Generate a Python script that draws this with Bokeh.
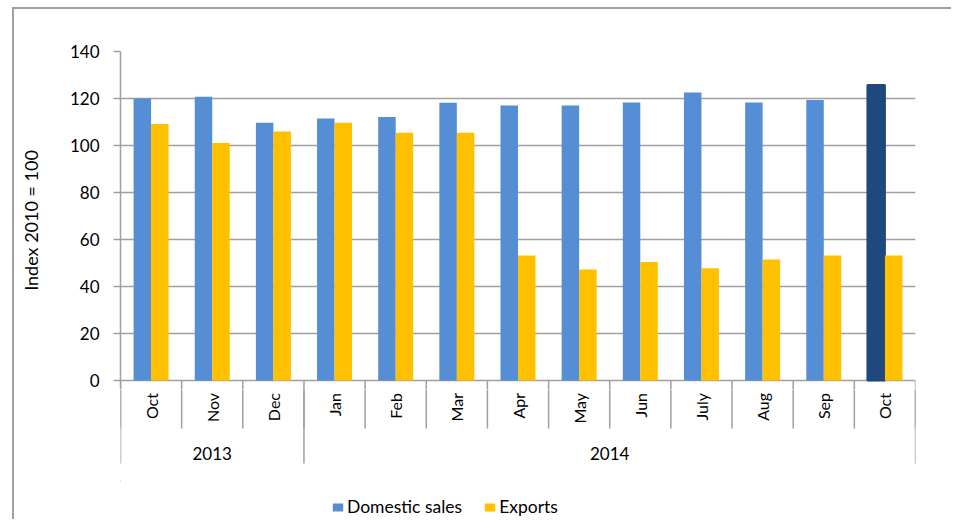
import math
from bokeh.plotting import figure
from bokeh.layouts import column
from bokeh.models import (Range1d, FixedTicker, ColumnDataSource,
                          Legend, LegendItem, InlineStyleSheet)
from bokeh.core.properties import value
from bokeh.transform import dodge
from bokeh.embed import file_html
from bokeh.resources import INLINE

# ---- data ----
years = ["2013", "2013", "2013", "2014", "2014", "2014", "2014", "2014", "2014", "2014", "2014", "2014", "2014"]
months = ["Oct", "Nov", "Dec", "Jan", "Feb", "Mar", "Apr", "May", "Jun", "July", "Aug", "Sep", "Oct"]
domestic = [120.0, 120.7, 109.7, 111.5, 112.1, 118.2, 117.0, 117.0, 118.3, 122.6, 118.3, 119.4, 125.7]
exports = [109.1, 101.1, 106.0, 109.7, 105.4, 105.4, 53.2, 47.2, 50.4, 47.8, 51.5, 53.2, 53.2]
y_ticks = [0, 20, 40, 60, 80, 100, 120, 140]
series_names = ["Domestic sales", "Exports"]
y_title = "Index 2010 = 100"

# ---- styles ----
BLUE = "#558ED5"
DARK = "#1F497D"
YELLOW = "#FFC000"
GRID = "#a0a0a0"
FONT = "Lato"

n = len(months)
slot = list(range(n))                      # category index
centers = [i + 0.5 for i in slot]          # category centres on a 0..n axis
bounds = list(range(n + 1))                # category boundaries
dom_fill = [BLUE] * (n - 1) + [DARK]
dom_line_alpha = [0] * (n - 1) + [1]
src = ColumnDataSource(dict(x=centers, domestic=domestic, exports=exports,
                            fill=dom_fill, la=dom_line_alpha, m=months))

year_bounds = [0] + [i for i in range(1, n) if years[i] != years[i - 1]] + [n]
year_names = [years[b] for b in year_bounds[:-1]]
year_centers = [(a + b) / 2 for a, b in zip(year_bounds[:-1], year_bounds[1:])]

PX = 2.35    # pixels per index point in the main plot
CUT = 9      # pixels of the main plot below the zero line

# ---------------- main plot ----------------
p = figure(width=951, height=380 + CUT, x_range=Range1d(0, n), y_range=Range1d(-CUT / PX, 140),
           title=None, output_backend="svg", toolbar_location=None,
           min_border_left=120, min_border_top=51, min_border_right=36, min_border_bottom=0)
p.outline_line_color = None
p.background_fill_color = "white"
p.border_fill_color = "white"
p.xaxis.visible = False
p.xgrid.visible = False

p.yaxis.ticker = FixedTicker(ticks=y_ticks)
p.yaxis.axis_line_color = GRID
p.yaxis.axis_line_width = 1.5
p.yaxis.major_tick_line_color = GRID
p.yaxis.major_tick_line_width = 1.5
p.yaxis.major_tick_out = 7
p.yaxis.major_tick_in = 0
p.yaxis.minor_tick_line_color = None
p.yaxis.major_label_standoff = 14
p.yaxis.major_label_text_font = FONT
p.yaxis.major_label_text_font_size = "17px"
p.yaxis.major_label_text_color = "black"
p.yaxis.axis_label = y_title
p.yaxis.axis_label_standoff = 25
p.yaxis.axis_label_text_font = FONT
p.yaxis.axis_label_text_font_size = "18px"
p.yaxis.axis_label_text_font_style = "normal"
p.yaxis.axis_label_text_color = "black"
p.ygrid.grid_line_color = GRID
p.ygrid.grid_line_width = 1.5
p.ygrid.ticker = FixedTicker(ticks=y_ticks)

w = 0.286
r_dom = p.vbar(x=dodge("x", -w / 2), top="domestic", width=w, source=src,
               fill_color="fill", line_color=DARK, line_alpha="la", line_width=2)
r_exp = p.vbar(x=dodge("x", w / 2), top="exports", width=w, source=src,
               fill_color=YELLOW, line_color=None)
# start of the category separators just under the zero line
p.segment(x0=bounds, y0=[0] * len(bounds), x1=bounds, y1=[-20] * len(bounds),
          line_color=GRID, line_width=1.5)

# ---------------- category axis strip + legend ----------------
q = figure(width=951, height=139 - CUT, x_range=p.x_range, y_range=Range1d(-139, -CUT),
           title=None, output_backend="svg", toolbar_location=None,
           min_border_left=120, min_border_top=0, min_border_right=36, min_border_bottom=0)
q.outline_line_color = None
q.background_fill_color = "white"
q.border_fill_color = "white"
q.xaxis.visible = False
q.yaxis.visible = False
q.xgrid.visible = False
q.ygrid.visible = False

# month separators and year separators
q.segment(x0=bounds, y0=[0] * len(bounds), x1=bounds, y1=[-48] * len(bounds),
          line_color=GRID, line_width=1.5)
q.segment(x0=year_bounds, y0=[0] * len(year_bounds), x1=year_bounds, y1=[-83] * len(year_bounds),
          line_color=GRID, line_width=1.5)
# month labels (rotated) and year labels
q.text(x="x", y=-12.5, text="m", source=src, angle=math.pi / 2,
       text_align="right", text_baseline="middle",
       text_font=value(FONT), text_font_size="16px", text_color="black")
q.text(x=year_centers, y=[-73] * len(year_centers), text=year_names,
       text_align="center", text_baseline="middle",
       text_font=value(FONT), text_font_size="17px", text_color="black")

# legend swatches: proxy bars with the series colours, placed outside the visible range
l_dom = q.vbar(x=[-1], top=[-100], bottom=[-101], width=w, fill_color=BLUE, line_color=None)
l_exp = q.vbar(x=[-1], top=[-100], bottom=[-101], width=w, fill_color=YELLOW, line_color=None)
legend = Legend(items=[LegendItem(label=series_names[0], renderers=[l_dom], index=0),
                       LegendItem(label=series_names[1], renderers=[l_exp], index=0)],
                orientation="horizontal", location=(211, 2),
                border_line_color=None, background_fill_alpha=0,
                padding=0, margin=0, spacing=21, label_standoff=3,
                glyph_width=13, glyph_height=10,
                label_text_font=FONT, label_text_font_size="17.5px", label_text_color="black")
q.add_layout(legend, "center")

layout = column(p, q, spacing=0)
# outer chart-area border (left and top edges, like the reference)
layout.stylesheets = [InlineStyleSheet(css=(
    ":host::after {content: ''; position: absolute; left: 12px; top: 7px; right: 0; bottom: 0;"
    " border-left: 2px solid #a0a0a0; border-top: 2px solid #a0a0a0; pointer-events: none;}"))]

open("out.html", "w").write(file_html(layout, INLINE))
